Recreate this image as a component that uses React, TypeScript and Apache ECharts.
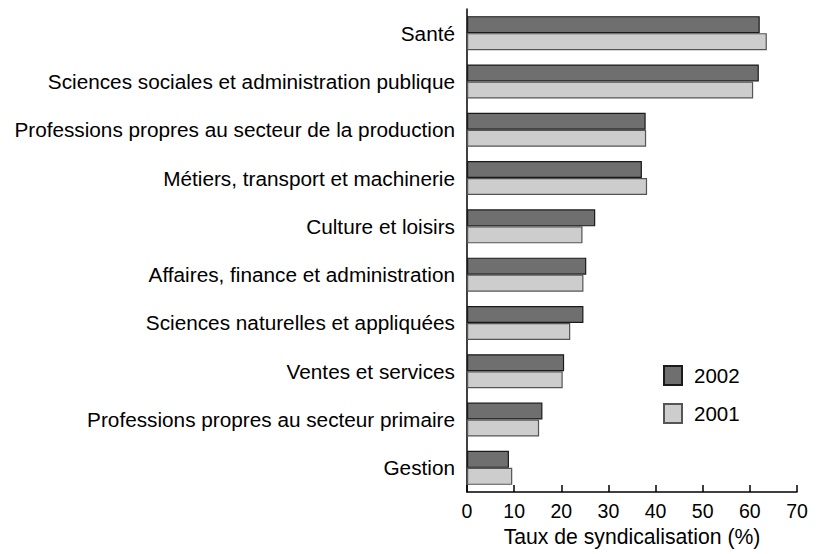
import React, { useEffect, useRef } from "react";
import * as echarts from "echarts";

const categories = [
  "Santé",
  "Sciences sociales et administration publique",
  "Professions propres au secteur de la production",
  "Métiers, transport et machinerie",
  "Culture et loisirs",
  "Affaires, finance et administration",
  "Sciences naturelles et appliquées",
  "Ventes et services",
  "Professions propres au secteur primaire",
  "Gestion",
];
const values2002 = [62.1, 61.9, 37.9, 37.1, 27.2, 25.3, 24.7, 20.6, 16.0, 8.9];
const values2001 = [63.6, 60.7, 38.0, 38.2, 24.5, 24.7, 21.9, 20.3, 15.3, 9.6];
const seriesNames = ["2002", "2001"];
const axisTitle = "Taux de syndicalisation (%)";

const FONT = "'Liberation Sans', Arial, Helvetica, sans-serif";

export default function App() {
  const ref = useRef<HTMLDivElement>(null);
  useEffect(() => {
    if (!ref.current) return;
    const chart = echarts.init(ref.current, undefined, { renderer: "svg" });
    chart.setOption({
      animation: false,
      backgroundColor: "#ffffff",
      textStyle: { fontFamily: FONT },
      grid: { left: 467, right: 22, top: 9, bottom: 62, containLabel: false },
      legend: {
        orient: "vertical",
        left: 658,
        top: 360,
        itemWidth: 18,
        itemHeight: 19,
        itemGap: 17,
        icon: "rect",
        data: seriesNames,
        textStyle: { fontSize: 20.5, color: "#000", fontFamily: FONT, padding: [0, 0, 0, 7] },
      },
      xAxis: {
        type: "value",
        min: 0,
        max: 70,
        interval: 10,
        name: axisTitle,
        nameLocation: "middle",
        nameGap: 34,
        nameTextStyle: { fontSize: 21.2, color: "#000", fontFamily: FONT },
        axisLine: { show: true, lineStyle: { color: "#000", width: 1.5 } },
        axisTick: { show: true, inside: true, length: 7, lineStyle: { color: "#000", width: 1.5 } },
        axisLabel: { fontSize: 19.5, color: "#000", margin: 9, fontFamily: FONT },
        splitLine: { show: false },
      },
      yAxis: {
        type: "category",
        inverse: true,
        data: categories,
        axisLine: { show: true, lineStyle: { color: "#000", width: 1.5 } },
        axisTick: { show: false },
        axisLabel: { fontSize: 20.75, color: "#000", margin: 12, fontFamily: FONT },
      },
      series: [
        {
          name: seriesNames[0],
          type: "bar",
          data: values2002,
          barGap: "0%",
          barCategoryGap: "29.6%",
          itemStyle: { color: "#6f6f6f", borderColor: "#1a1a1a", borderWidth: 1.2 },
        },
        {
          name: seriesNames[1],
          type: "bar",
          data: values2001,
          barGap: "0%",
          barCategoryGap: "29.6%",
          itemStyle: { color: "#cdcdcd", borderColor: "#555", borderWidth: 1.2 },
        },
      ],
    });
    return () => chart.dispose();
  }, []);
  return (
    <div
      ref={ref}
      style={{ position: "fixed", left: 0, top: 0, width: 819, height: 554 }}
    />
  );
}
